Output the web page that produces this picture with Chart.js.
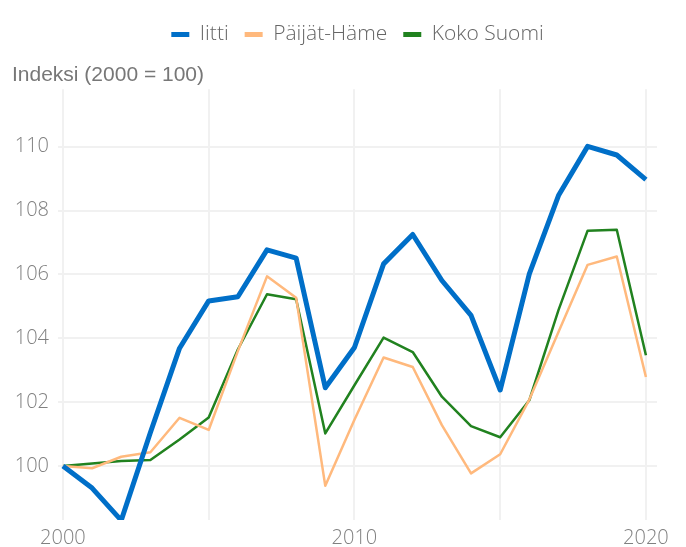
<!DOCTYPE html>
<html>
<head>
<meta charset="utf-8">
<script src="https://cdn.jsdelivr.net/npm/chart.js@4"></script>
<style>
  html, body { margin: 0; padding: 0; background: #fff; }
  #wrap { width: 686px; height: 547px; }
</style>
</head>
<body>
<div id="wrap"><canvas id="line"></canvas></div>
<script>
/* =================================================================
    Data
================================================================= */

var years = [2000, 2001, 2002, 2003, 2004, 2005, 2006, 2007, 2008, 2009, 2010,
             2011, 2012, 2013, 2014, 2015, 2016, 2017, 2018, 2019, 2020];

var iitti = [100, 99.31, 98.3, 101.05, 103.69, 105.17, 105.3, 106.77, 106.51, 102.45, 103.71,
             106.33, 107.25, 105.81, 104.72, 102.38, 106.02, 108.47, 110.01, 109.74, 108.97];

var paijatHame = [100, 99.93, 100.29, 100.43, 101.51, 101.13, 103.6, 105.94, 105.27, 99.38, 101.45,
                  103.40, 103.10, 101.28, 99.77, 100.37, 102.08, 104.2, 106.30, 106.56, 102.79];

var kokoSuomi = [100, 100.08, 100.16, 100.19, 100.83, 101.52, 103.65, 105.38, 105.22, 101.02, 102.53,
                 104.02, 103.57, 102.17, 101.25, 100.90, 102.06, 104.88, 107.37, 107.40, 103.47];

var xTicks = [2000, 2005, 2010, 2015, 2020];
var yTicks = [100, 102, 104, 106, 108, 110];

/* =================================================================
    Line chart
================================================================= */

function points(values) {
    return years.map(function (y, i) { return { x: y, y: values[i] }; });
}

var ctx = document.getElementById("line");

var data = {
    datasets: [
        {
            label: "Iitti",
            data: points(iitti),
            borderColor: "#006fc8",
            backgroundColor: "#006fc8",
            borderWidth: 5
        },
        {
            label: "Päijät-Häme",
            data: points(paijatHame),
            borderColor: "#ffb97d",
            backgroundColor: "#ffb97d",
            borderWidth: 2.5
        },
        {
            label: "Koko Suomi",
            data: points(kokoSuomi),
            borderColor: "#21821f",
            backgroundColor: "#21821f",
            borderWidth: 2.5
        }
    ]
};

var defaultLabels = Chart.defaults.plugins.legend.labels.generateLabels;

var myChart = new Chart(ctx, {
    type: 'line',
    data: data,
    options: {
        responsive: true,
        maintainAspectRatio: false,
        animation: false,
        elements: {
            point: { radius: 0, hoverRadius: 0 },
            line: { tension: 0, borderJoinStyle: 'round', borderCapStyle: 'butt' }
        },
        layout: { padding: { left: 12, right: 29, top: 8, bottom: 0 } },
        plugins: {
            tooltip: { enabled: false },
            legend: {
                position: 'top',
                weight: 3000,
                fullSize: false,
                labels: {
                    boxWidth: 18,
                    boxHeight: 5,
                    padding: 16,
                    color: '#666',
                    font: { family: "'Open Sans'", size: 21, weight: 300 },
                    generateLabels: function (chart) {
                        return defaultLabels(chart).map(function (l) {
                            l.fillStyle = l.strokeStyle;
                            l.lineWidth = 0;
                            return l;
                        });
                    }
                }
            },
            title: {
                display: true,
                text: 'Indeksi (2000 = 100)',
                align: 'start',
                color: '#777',
                font: { family: "'Liberation Sans'", size: 21, weight: 'normal' },
                padding: { top: 8, bottom: 1 }
            }
        },
        scales: {
            x: {
                type: 'linear',
                min: 1999.83,
                max: 2020.38,
                afterBuildTicks: function (s) {
                    s.ticks = xTicks.map(function (v) { return { value: v }; });
                },
                afterFit: function (s) { s.height = 27; },
                border: { display: false },
                grid: { color: '#f1f1f1', lineWidth: 2, drawTicks: false },
                ticks: {
                    padding: 6,
                    maxRotation: 0,
                    color: '#808080',
                    font: { family: "'Open Sans'", size: 20, weight: 300 },
                    callback: function (v) { return v % 10 === 0 ? String(v) : ''; }
                }
            },
            y: {
                min: 98.31,
                max: 111.8,
                afterBuildTicks: function (s) {
                    s.ticks = yTicks.map(function (v) { return { value: v }; });
                },
                afterFit: function (s) { s.width = 46; },
                border: { display: false },
                grid: { color: '#f1f1f1', lineWidth: 2, drawTicks: false },
                ticks: {
                    padding: 9,
                    color: '#808080',
                    font: { family: "'Open Sans'", size: 20, weight: 300 }
                }
            }
        }
    }
});
</script>
</body>
</html>
